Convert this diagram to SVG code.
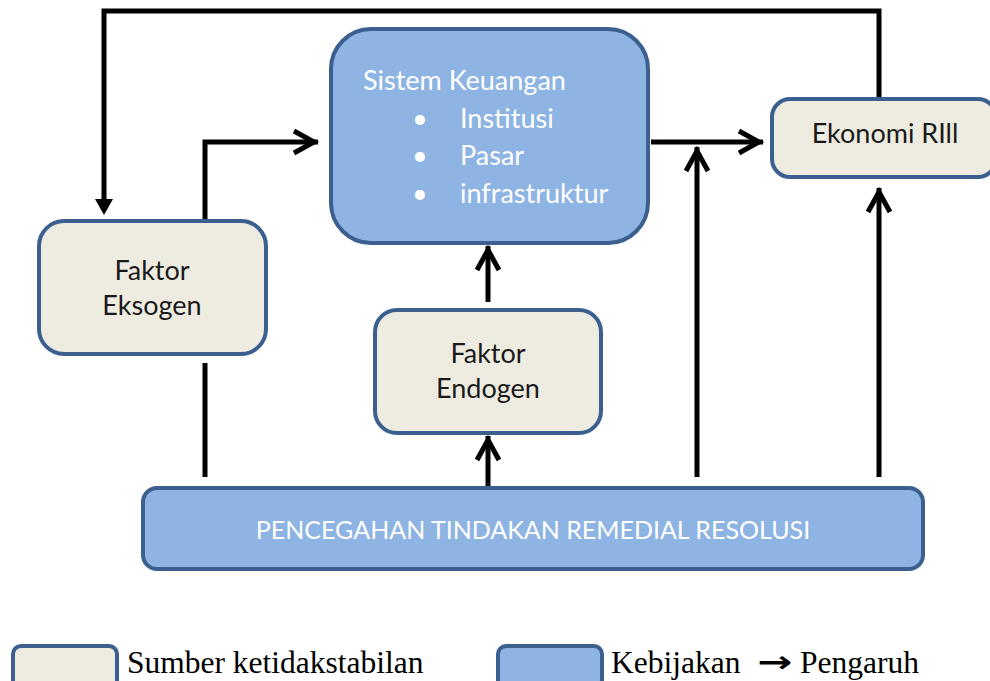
<svg xmlns="http://www.w3.org/2000/svg" width="990" height="681" viewBox="0 0 990 681">
<style>
.src{fill:#EEECE1;stroke:#3B5F8E;stroke-width:4}
.pol{fill:#8EB4E3;stroke:#3B5F8E;stroke-width:4}
.t{font-family:Lato,"Open Sans",sans-serif;font-size:27px;fill:#1a1a1a}
.w{font-family:Lato,"Open Sans",sans-serif;font-size:27px;fill:#ffffff}
.leg{font-family:"Liberation Serif","Times New Roman",serif;font-size:31.5px;fill:#000}
.ln{fill:none;stroke:#000;stroke-width:5}
</style>
<defs>
<marker id="chev" markerUnits="userSpaceOnUse" markerWidth="40" markerHeight="40" refX="0" refY="0" orient="auto" overflow="visible">
<path d="M-24,-11 L-4,0 L-24,11" fill="none" stroke="#000" stroke-width="5" stroke-linejoin="miter"/>
</marker>
</defs>
<g id="connectors">
<path class="ln" d="M879,99 V11 H104 V200"/>
<polygon points="95,199 113,199 104,215" fill="#000"/>
<path class="ln" d="M205,221 V142 H318" marker-end="url(#chev)"/>
<path class="ln" d="M651,142 H763" marker-end="url(#chev)"/>
<path class="ln" d="M697,477 V147" marker-end="url(#chev)"/>
<path class="ln" d="M879,477 V188" marker-end="url(#chev)"/>
<path class="ln" d="M488,302 V246" marker-end="url(#chev)"/>
<path class="ln" d="M488,488 V436" marker-end="url(#chev)"/>
<path class="ln" d="M205,363 V477"/>
</g>
<g id="sistem-keuangan">
<rect class="pol" x="331" y="29" width="317" height="214" rx="40"/>
<text class="w" x="363" y="90">Sistem Keuangan</text>
<text class="w" x="412" y="128">•</text><text class="w" x="460" y="128">Institusi</text>
<text class="w" x="412" y="165">•</text><text class="w" x="460" y="165">Pasar</text>
<text class="w" x="412" y="203">•</text><text class="w" x="460" y="203">infrastruktur</text>
</g>
<g id="ekonomi-riil">
<rect class="src" x="772" y="99" width="224" height="78" rx="18"/>
<text class="t" x="885" y="143" text-anchor="middle">Ekonomi RIll</text>
</g>
<g id="faktor-eksogen">
<rect class="src" x="39" y="221" width="227" height="133" rx="25"/>
<text class="t" x="152" y="280" text-anchor="middle">Faktor</text>
<text class="t" x="152" y="315" text-anchor="middle">Eksogen</text>
</g>
<g id="faktor-endogen">
<rect class="src" x="375" y="310" width="226" height="123" rx="22"/>
<text class="t" x="488" y="363" text-anchor="middle">Faktor</text>
<text class="t" x="488" y="398" text-anchor="middle">Endogen</text>
</g>
<g id="kebijakan-bar">
<rect class="pol" x="143" y="488" width="780" height="81" rx="14"/>
<text class="w" x="533" y="539" text-anchor="middle" style="font-size:25px">PENCEGAHAN TINDAKAN REMEDIAL RESOLUSI</text>
</g>
<g id="legend">
<rect class="src" x="13" y="646" width="104" height="42" rx="8"/>
<text class="leg" x="127" y="673">Sumber ketidakstabilan</text>
<rect class="pol" x="498" y="646" width="104" height="42" rx="8"/>
<text class="leg" x="611" y="673">Kebijakan</text>
<text x="757" y="672" textLength="35" lengthAdjust="spacingAndGlyphs" style="font-family:'DejaVu Sans',sans-serif;font-weight:bold;font-size:30px">→</text>
<text class="leg" x="800" y="673">Pengaruh</text>
</g>
</svg>
